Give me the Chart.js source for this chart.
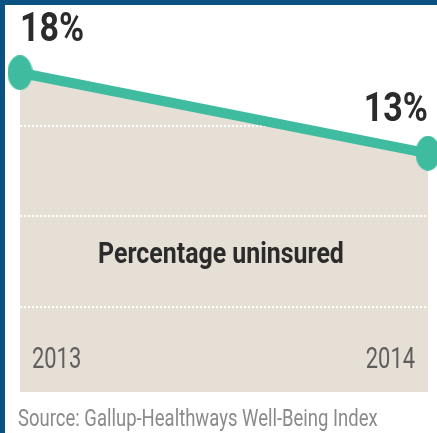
<!DOCTYPE html>
<html>
<head>
<meta charset="utf-8">
<script src="https://cdn.jsdelivr.net/npm/chart.js@4"></script>
<style>
  html, body { margin: 0; padding: 0; background: #ffffff; }
  #wrap { position: relative; width: 437px; height: 433px; overflow: hidden; }
  #chart { position: absolute; left: 0; top: 0; }
  .edge { position: absolute; background: #0b5282; }
  #edgeLeft { left: 0; top: 0; width: 5px; height: 433px; }
  #edgeTop { left: 0; top: 0; width: 437px; height: 5px; }
</style>
</head>
<body>
<div id="wrap">
  <canvas id="chart" width="437" height="433"></canvas>
  <div class="edge" id="edgeLeft"></div>
  <div class="edge" id="edgeTop"></div>
</div>
<script>
// Share of adults without health insurance
const years = ['2013', '2014'];
const uninsured = [18, 13];
const valueLabels = ['18%', '13%'];
const seriesTitle = 'Percentage uninsured';
const sourceNote = 'Source: Gallup-Healthways Well-Being Index';
// Dotted guide rules across the shaded area
const guideLevels = [14.7, 9.1, 3.5];

const TEAL = '#3fbc9f';
const SAND = '#e5dfd5';

// Oval marker used at each end of the line
function makeMarker(w, h, color) {
  const c = document.createElement('canvas');
  c.width = w; c.height = h;
  const g = c.getContext('2d');
  g.fillStyle = color;
  g.beginPath();
  g.ellipse(w / 2, h / 2, w / 2, h / 2, 0, 0, Math.PI * 2);
  g.fill();
  return c;
}
const marker = makeMarker(25, 35, TEAL);

// Text drawn narrower than its natural width (condensed look)
function drawText(ctx, text, x, y, font, color, align, sx) {
  ctx.save();
  ctx.font = font;
  ctx.fillStyle = color;
  ctx.textAlign = align;
  ctx.textBaseline = 'alphabetic';
  ctx.translate(x, y);
  ctx.scale(sx, 1);
  ctx.fillText(text, 0, 0);
  ctx.restore();
}

const guidesPlugin = {
  id: 'guides',
  beforeDatasetsDraw(chart) {
    const { ctx, chartArea, scales } = chart;
    ctx.save();
    ctx.strokeStyle = '#ffffff';
    ctx.lineWidth = 2;
    ctx.setLineDash([2, 2]);
    guideLevels.forEach(v => {
      const y = Math.round(scales.y.getPixelForValue(v));
      ctx.beginPath();
      ctx.moveTo(chartArea.left, y);
      ctx.lineTo(chartArea.right, y);
      ctx.stroke();
    });
    ctx.restore();
  }
};

const textPlugin = {
  id: 'texts',
  afterDatasetsDraw(chart) {
    const { ctx, chartArea, scales } = chart;
    const pts = chart.getDatasetMeta(0).data;

    // value labels above the end points
    pts.forEach((p, i) => {
      const align = i === 0 ? 'left' : 'right';
      drawText(ctx, valueLabels[i], p.x, p.y - 32,
        'bold 40px Roboto', '#2b2b2b', align, 0.85);
    });

    // series title between the two lower guide rules
    const yMid = (scales.y.getPixelForValue(guideLevels[1]) +
                  scales.y.getPixelForValue(guideLevels[2])) / 2;
    drawText(ctx, seriesTitle, (chartArea.left + chartArea.right) / 2 - 3, yMid + 2,
      'bold 30px Roboto', '#2b2b2b', 'center', 0.83);

    // year labels inside the bottom of the shaded area
    years.forEach((yr, i) => {
      const x = scales.x.getPixelForValue(i);
      const align = i === 0 ? 'left' : 'right';
      drawText(ctx, yr, i === 0 ? x + 12 : x - 13, chartArea.bottom - 24,
        '30px Roboto', '#5e5e5e', align, 0.73);
    });

    // source line under the chart
    drawText(ctx, sourceNote, 18, chartArea.bottom + 34,
      '24px Roboto', '#8a8a8a', 'left', 0.77);
  }
};

new Chart(document.getElementById('chart'), {
  type: 'line',
  data: {
    labels: years,
    datasets: [{
      data: uninsured,
      borderColor: TEAL,
      borderWidth: 10,
      backgroundColor: SAND,
      fill: 'start',
      tension: 0,
      pointStyle: marker,
      pointRadius: 14,
      clip: false
    }]
  },
  options: {
    responsive: false,
    devicePixelRatio: 1,
    animation: false,
    events: [],
    layout: { autoPadding: false, padding: { left: 20, right: 9, top: 5, bottom: 41 } },
    scales: {
      x: { display: false, offset: false },
      y: { display: false, min: -1.8, max: 22.2 }
    },
    plugins: {
      legend: { display: false },
      tooltip: { enabled: false },
      filler: { drawTime: 'beforeDatasetsDraw' }
    }
  },
  plugins: [guidesPlugin, textPlugin]
});
</script>
</body>
</html>
